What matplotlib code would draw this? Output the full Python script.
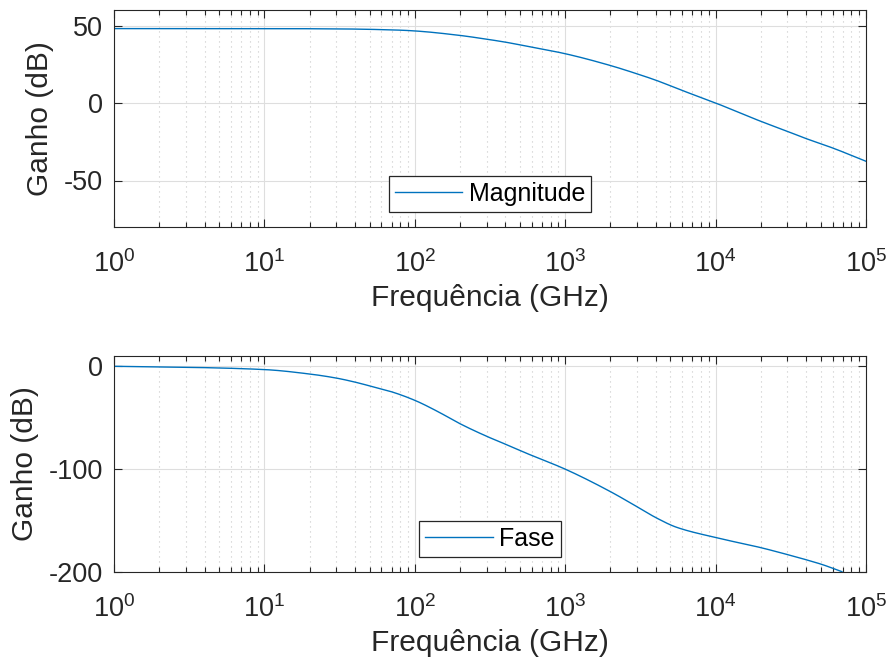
import numpy as np
import matplotlib
matplotlib.use("Agg")
import matplotlib.pyplot as plt
from matplotlib.ticker import LogLocator, NullFormatter

plt.rcParams['font.family'] = ['Liberation Sans', 'DejaVu Sans']
plt.rcParams['mathtext.fontset'] = 'custom'
plt.rcParams['mathtext.rm'] = 'Liberation Sans'
plt.rcParams['mathtext.it'] = 'Liberation Sans'

# Data (log10 of frequency in GHz)
mag_logf = [0, 1, 1.5, 1.9, 2.0, 2.3, 2.475, 2.6, 2.7, 3.0, 3.3, 3.475, 3.6, 3.775,
            4.0, 4.3, 4.475, 4.6, 4.775, 5.0]
mag_db = [48, 48, 47.8, 47.0, 46.5, 43.6, 41.2, 39.3, 37.5, 31.8, 24.2, 18.9, 14.8, 8.2,
          0, -11.8, -18.2, -22.9, -28.9, -37.6]

ph_logf = [0, 0.5, 1.0, 1.3, 1.476, 1.6, 1.693, 1.85, 2.0, 2.15, 2.3, 2.48, 2.6, 2.74,
           3.0, 3.3, 3.476, 3.61, 3.74, 4.0, 4.3, 4.476, 4.6, 4.71, 4.84]
ph_deg = [0, -1, -3.2, -7.5, -11.4, -15.3, -18.8, -25, -33.1, -43.8, -55.8, -68.2, -75.6,
          -84.4, -100, -121.8, -136.4, -147.7, -156.5, -166.5, -176.3, -183, -188, -192.8,
          -199.7]

xticks = [1, 10, 100, 1000, 10000, 100000]
xticklabels = ['$10^{0}$', '$10^{1}$', '$10^{2}$', '$10^{3}$', '$10^{4}$', '$10^{5}$']
mag_yticks = [-50, 0, 50]
ph_yticks = [-200, -100, 0]

color = '#0072BD'
dark = '#262626'

def smooth(lx, ly):
    lx = np.asarray(lx, float); ly = np.asarray(ly, float)
    xx = np.linspace(lx[0], lx[-1], 800)
    h = np.diff(lx); d = np.diff(ly) / h
    m = np.zeros_like(lx)
    m[0] = d[0]; m[-1] = d[-1]
    for i in range(1, len(lx) - 1):
        if d[i-1] * d[i] <= 0:
            m[i] = 0
        else:
            w1 = 2*h[i] + h[i-1]; w2 = h[i] + 2*h[i-1]
            m[i] = (w1 + w2) / (w1/d[i-1] + w2/d[i])
    idx = np.clip(np.searchsorted(lx, xx, side='right') - 1, 0, len(lx) - 2)
    t = (xx - lx[idx]) / h[idx]
    h00 = 2*t**3 - 3*t**2 + 1; h10 = t**3 - 2*t**2 + t
    h01 = -2*t**3 + 3*t**2; h11 = t**3 - t**2
    yy = h00*ly[idx] + h10*h[idx]*m[idx] + h01*ly[idx+1] + h11*h[idx]*m[idx+1]
    return 10**xx, yy

fig = plt.figure(figsize=(8.89, 6.66), dpi=100)
ax1 = fig.add_axes([114/889, 1-227/666, (866-114)/889, (227-10)/666])
ax2 = fig.add_axes([114/889, 1-572/666, (866-114)/889, (572-356)/666])

def style(ax, yticks, ylim):
    ax.set_xscale('log')
    ax.set_xlim(1, 1e5)
    ax.set_ylim(*ylim)
    ax.set_xticks(xticks)
    ax.set_xticklabels(xticklabels)
    ax.xaxis.set_minor_locator(LogLocator(base=10, subs=np.arange(2, 10), numticks=20))
    ax.xaxis.set_minor_formatter(NullFormatter())
    ax.set_yticks(yticks)
    ax.set_yticklabels([str(v) for v in yticks])
    ax.grid(True, which='major', color='#dedede', linewidth=0.8, linestyle='-')
    ax.grid(True, which='minor', axis='x', color='#c8c8c8', linewidth=0.8, linestyle=(0, (1, 3.5)))
    ax.tick_params(which='both', direction='in', top=True, right=True, labelsize=19.5,
                   colors=dark, width=0.8)
    ax.tick_params(which='major', length=6)
    ax.tick_params(which='minor', length=3.5)
    ax.tick_params(axis='x', pad=17)
    ax.tick_params(axis='y', pad=8)
    for s in ax.spines.values():
        s.set_color(dark); s.set_linewidth(0.8)
    ax.set_xlabel('Frequência (GHz)', fontsize=21.5, color=dark, labelpad=4)
    ax.set_ylabel('Ganho (dB)', fontsize=21.5, color=dark, labelpad=7)
    ax.set_axisbelow(True)

fx, fy = smooth(mag_logf, mag_db)
ax1.plot(fx, fy, color=color, linewidth=1.0, label='Magnitude')
style(ax1, mag_yticks, (-80, 60))

px, py = smooth(ph_logf, ph_deg)
ax2.plot(px, py, color=color, linewidth=1.0, label='Fase')
style(ax2, ph_yticks, (-200, 10))

for ax in (ax1, ax2):
    leg = ax.legend(loc='lower center', bbox_to_anchor=(0.5, 0.069), fontsize=18, fancybox=False,
                    framealpha=1, edgecolor=dark, borderpad=0.25, handlelength=2.7,
                    handletextpad=0.25, borderaxespad=0)
    leg.get_frame().set_linewidth(0.9)

fig.savefig('out.png', dpi=100)
